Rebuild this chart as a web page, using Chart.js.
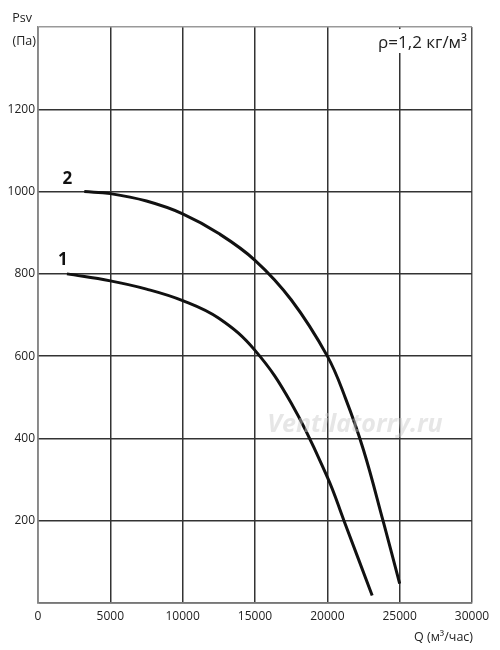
<!DOCTYPE html>
<html>
<head>
<meta charset="utf-8">
<script src="https://cdn.jsdelivr.net/npm/chart.js@4.4.0/dist/chart.umd.min.js"></script>
<style>
  html, body { margin: 0; padding: 0; background: #fff; }
  #wrap { width: 500px; height: 650px; }
</style>
</head>
<body>
<div id="wrap"><canvas id="grafica" width="500" height="650"></canvas></div>
<script>
// Q (м³/час) / Psv (Па)
var q1 = [2000, 5000, 7500, 10000, 12500, 15000, 17500, 20000, 21150, 23100];
var p1 = [800, 783, 763, 735, 692, 614, 486, 306, 200, 18];
var q2 = [3200, 5000, 7500, 10000, 12500, 15000, 17500, 20000, 21250, 22500, 23850, 25000];
var p2 = [1000, 995, 977, 946, 898, 833, 737, 600, 498, 372, 200, 47];
var curveNames = ['1', '2'];
var xTicks = [0, 5000, 10000, 15000, 20000, 25000, 30000];
var yTicks = [200, 400, 600, 800, 1000, 1200];

function pts(xs, ys) {
  return xs.map(function (x, i) { return { x: x, y: ys[i] }; });
}

var font = '"Open Sans", "Liberation Sans", sans-serif';

var extras = {
  id: 'extras',
  afterDraw: function (chart) {
    var c = chart.ctx;
    var xs = chart.scales.x, ys = chart.scales.y;
    c.save();
    // watermark
    c.font = 'italic bold 25px ' + font;
    c.fillStyle = 'rgba(200,200,200,0.45)';
    c.textAlign = 'center';
    c.textBaseline = 'middle';
    c.fillText('Ventilatorry.ru', 355, 425);

    // density note on white
    c.font = '17px ' + font;
    c.textAlign = 'right';
    c.textBaseline = 'alphabetic';
    var txt = 'ρ=1,2 кг/м³';
    var w = c.measureText(txt).width;
    c.fillStyle = '#fff';
    c.fillRect(467 - w - 2, 29, w + 4, 24);
    c.fillStyle = '#222';
    c.fillText(txt, 467, 48);

    // curve numbers
    c.font = 'bold 17px ' + font;
    c.textAlign = 'center';
    c.fillStyle = '#111';
    c.fillText(curveNames[0], xs.getPixelForValue(q1[0]) - 4, ys.getPixelForValue(p1[0]) - 9);
    c.fillText(curveNames[1], xs.getPixelForValue(q2[0]) - 17, ys.getPixelForValue(p2[0]) - 8);

    // axis titles
    c.font = '12.5px ' + font;
    c.fillStyle = '#222';
    c.textAlign = 'right';
    c.fillText('Psv', 32, 22);
    c.fillText('(Па)', 36, 45);
    c.fillText('Q (м³/час)', 473, 641);
    c.restore();
  }
};

new Chart(document.getElementById('grafica'), {
  type: 'line',
  data: {
    datasets: [{
      label: curveNames[0],
      data: pts(q1, p1),
      borderColor: '#111',
      borderWidth: 3,
      pointRadius: 0,
      tension: 0.4,
      fill: false
    }, {
      label: curveNames[1],
      data: pts(q2, p2),
      borderColor: '#111',
      borderWidth: 3,
      pointRadius: 0,
      tension: 0.4,
      fill: false
    }]
  },
  options: {
    responsive: false,
    animation: false,
    layout: { padding: { left: 0, top: 27, right: 28, bottom: 0 } },
    plugins: { legend: { display: false }, tooltip: { enabled: false } },
    scales: {
      x: {
        type: 'linear',
        min: 0, max: 30000,
        afterBuildTicks: function (s) { s.ticks = xTicks.map(function (v) { return { value: v }; }); },
        afterFit: function (s) { s.height = 47; },
        grid: {
          drawTicks: false,
          lineWidth: 1.5,
          color: function (ctx) { return ctx.tick && ctx.tick.value === 30000 ? '#555' : '#333'; }
        },
        border: { color: '#777', width: 1.5 },
        ticks: {
          padding: 6,
          color: '#222',
          font: { family: font, size: 12 },
          maxRotation: 0,
          callback: function (v) { return String(v); }
        }
      },
      y: {
        type: 'linear',
        min: 0, max: 1400,
        afterBuildTicks: function (s) {
          s.ticks = [0].concat(yTicks, [1400]).map(function (v) { return { value: v }; });
        },
        afterFit: function (s) { s.width = 38; },
        grid: {
          drawTicks: false,
          lineWidth: 1.5,
          color: function (ctx) { return ctx.tick && ctx.tick.value === 1400 ? '#999' : '#333'; }
        },
        border: { color: '#888', width: 1.5 },
        ticks: {
          padding: 3,
          color: '#222',
          font: { family: font, size: 12 },
          callback: function (v) { return yTicks.indexOf(v) >= 0 ? String(v) : ''; }
        }
      }
    }
  },
  plugins: [extras]
});
</script>
</body>
</html>
